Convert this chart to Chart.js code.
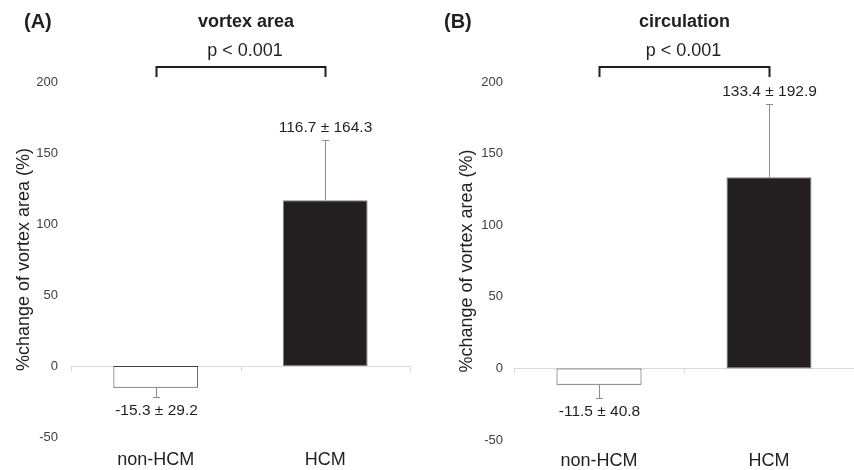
<!DOCTYPE html>
<html><head><meta charset="utf-8">
<script src="https://cdn.jsdelivr.net/npm/chart.js@4/dist/chart.umd.min.js"></script>
<style>
html,body{margin:0;padding:0;background:#fff;width:854px;height:470px;overflow:hidden}
canvas{position:absolute;top:0}
</style></head><body>
<canvas id="cA" width="427" height="470" style="left:0"></canvas>
<canvas id="cB" width="427" height="470" style="left:427px"></canvas>
<script>
// ---- data ----
const categories = ['non-HCM', 'HCM'];
const yTicks = [-50, 0, 50, 100, 150, 200];
const panelLetters = ['(A)', '(B)'];
const panelTitles = ['vortex area', 'circulation'];
const yAxisTitle = '%change of vortex area (%)';
const pText = 'p < 0.001';
const meanA = [-15.3, 116.7];
const sdA = [29.2, 164.3];
const errBarA = [6.5, 42.2];   // drawn error-bar length
const meanB = [-11.5, 133.4];
const sdB = [40.8, 192.9];
const errBarB = [9.5, 51.2];

const FONT = "'Liberation Sans', Arial, sans-serif";
const TXT = '#231f20';
Chart.defaults.font.family = FONT;

function makePanel(id, means, errs, sds, letter, title, L) {
  const annot = {
    id: 'annot',
    beforeDatasetsDraw(chart) {
      const {ctx, chartArea: a, scales: {x, y}} = chart;
      const y0 = Math.round(y.getPixelForValue(0)) + 0.5;
      ctx.save();
      ctx.strokeStyle = '#d9d9d9';
      ctx.lineWidth = 1;
      ctx.beginPath();
      ctx.moveTo(a.left, y0); ctx.lineTo(a.right, y0);
      for (let i = 0; i <= categories.length; i++) {
        const px = Math.round(x.getPixelForValue(i - 0.5)) + 0.5;
        ctx.moveTo(px, y0); ctx.lineTo(px, y0 + 5);
      }
      ctx.stroke();
      ctx.restore();
    },
    afterDatasetsDraw(chart) {
      const {ctx, chartArea: a, scales: {x, y}} = chart;
      ctx.save();
      // error bars + value labels
      means.forEach((v, i) => {
        const s = Math.sign(v) || 1;
        const end = v + s * errs[i];
        const px = Math.round(x.getPixelForValue(i)) + 0.5;
        const yv = y.getPixelForValue(v), ye = Math.round(y.getPixelForValue(end)) + 0.5;
        ctx.strokeStyle = '#8c8c8c';
        ctx.lineWidth = 1;
        ctx.beginPath();
        ctx.moveTo(px, yv); ctx.lineTo(px, ye);
        ctx.moveTo(px - 3.5, ye); ctx.lineTo(px + 3.5, ye);
        ctx.stroke();
        ctx.fillStyle = TXT;
        ctx.font = '15.5px ' + FONT;
        ctx.textAlign = 'center';
        ctx.textBaseline = 'middle';
        ctx.fillText(v.toFixed(1) + ' \u00b1 ' + sds[i].toFixed(1), px, ye - s * 13);
      });
      // bracket
      const x1 = Math.round(x.getPixelForValue(0)) + 0.5, x2 = Math.round(x.getPixelForValue(1)) + 0.5;
      const by = a.top - 15;
      ctx.strokeStyle = TXT;
      ctx.lineWidth = 2;
      ctx.beginPath();
      ctx.moveTo(x1, a.top - 5); ctx.lineTo(x1, by); ctx.lineTo(x2, by); ctx.lineTo(x2, a.top - 5);
      ctx.stroke();
      ctx.fillStyle = TXT;
      ctx.textAlign = 'center';
      ctx.textBaseline = 'middle';
      const cx = (x1 + x2) / 2 + L.titleShift;
      ctx.font = '18px ' + FONT;
      ctx.fillText(pText, cx, a.top - 31);
      ctx.font = 'bold 18px ' + FONT;
      ctx.fillText(title, cx + 1, 22);
      ctx.font = 'bold 20px ' + FONT;
      ctx.textAlign = 'left';
      ctx.fillText(letter, L.letterX, 22);
      ctx.restore();
    }
  };

  return new Chart(document.getElementById(id), {
    type: 'bar',
    data: {
      labels: categories,
      datasets: [{
        data: means,
        backgroundColor: ['#ffffff', '#231f20'],
        borderColor: ['#404040', '#7f7f7f'],
        borderWidth: 1,
        borderSkipped: false,
        categoryPercentage: 1,
        barPercentage: 0.5
      }]
    },
    options: {
      responsive: false,
      animation: false,
      layout: {padding: {top: 82, right: L.padRight, left: 0, bottom: 0}},
      plugins: {legend: {display: false}, tooltip: {enabled: false}, title: {display: false}},
      scales: {
        x: {
          grid: {display: false, drawTicks: false},
          border: {display: false},
          ticks: {color: TXT, font: {size: 18}, padding: L.xPad},
          afterFit: s => { s.height = L.xHeight; }
        },
        y: {
          min: -50, max: 200,
          grid: {display: false, drawTicks: false},
          border: {display: false},
          afterBuildTicks: s => { s.ticks = yTicks.map(v => ({value: v})); },
          ticks: {color: '#404040', font: {size: 13}, padding: L.tickPad},
          title: {display: true, text: yAxisTitle, color: TXT, font: {size: 18}, padding: {top: L.titlePad, bottom: 0}},
          afterFit: s => { s.width = L.yWidth; }
        }
      }
    },
    plugins: [annot]
  });
}

makePanel('cA', meanA, errBarA, sdA, panelLetters[0], panelTitles[0],
  {padRight: 17, yWidth: 71, xHeight: 33, tickPad: 13, titlePad: 13, xPad: 12, letterX: 24, titleShift: 4});
makePanel('cB', meanB, errBarB, sdB, panelLetters[1], panelTitles[1],
  {padRight: 0, yWidth: 87, xHeight: 30, tickPad: 11, titlePad: 29, xPad: 10, letterX: 17, titleShift: -1});
</script>
</body></html>
